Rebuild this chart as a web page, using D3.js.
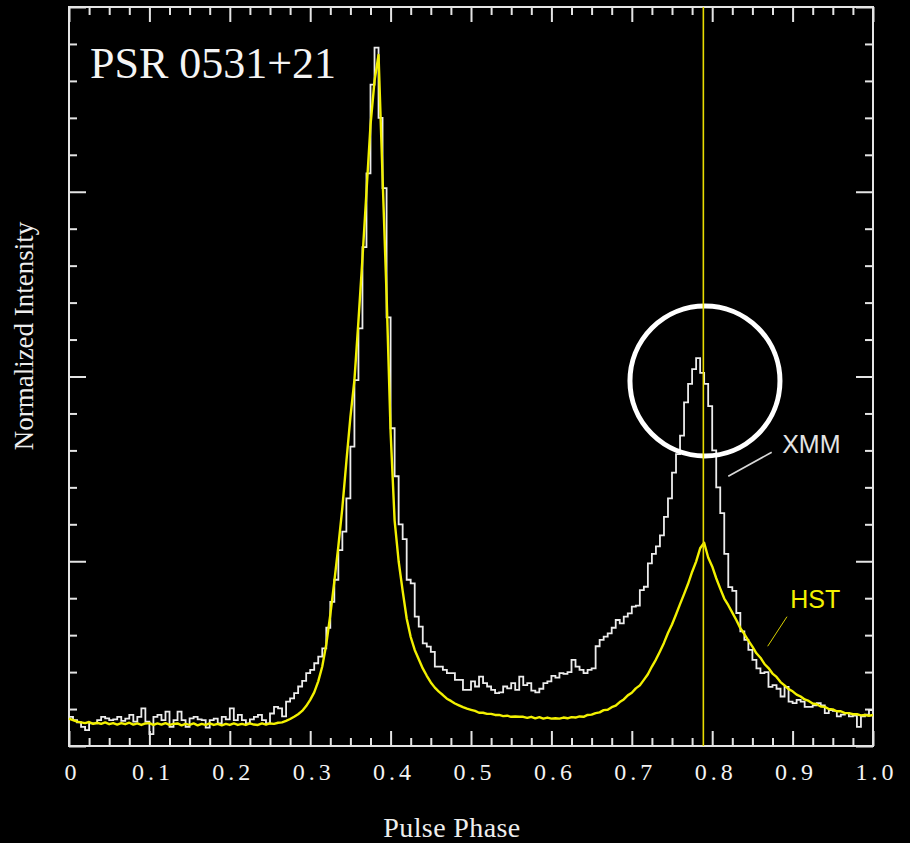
<!DOCTYPE html>
<html>
<head>
<meta charset="utf-8">
<script src="https://cdn.jsdelivr.net/npm/d3@7"></script>
<style>
  html, body { margin: 0; padding: 0; background: #000; }
  svg { display: block; }
</style>
</head>
<body>
<svg id="chart" width="910" height="843"></svg>
<script>
// Crab pulsar light curve: XMM X-ray histogram vs HST optical profile.

// XMM counts, one value per phase bin of width 0.005 (200 bins, phase 0..1)
const xmmBinWidth = 0.005;
const xmmCounts = [
  0.79, 0.70, 0.64, 0.52, 0.43, 0.61, 0.61, 0.70, 0.79, 0.75,
  0.70, 0.72, 0.79, 0.68, 0.74, 0.84, 0.66, 0.79, 1.02, 0.66,
  0.32, 0.79, 0.84, 0.70, 0.93, 0.52, 0.70, 0.93, 0.70, 0.52,
  0.75, 0.79, 0.72, 0.70, 0.50, 0.70, 0.74, 0.61, 0.79, 0.72,
  1.02, 0.70, 0.84, 0.70, 0.61, 0.72, 0.79, 0.84, 0.70, 0.61,
  0.88, 1.06, 1.02, 0.80, 1.20, 1.29, 1.43, 1.61, 1.76, 1.97,
  2.06, 2.24, 2.42, 2.64, 3.20, 3.90, 4.50, 5.30, 5.80, 6.70,
  8.10, 9.90, 11.3, 13.5, 15.5, 17.9, 18.9, 17.0, 15.1, 11.6,
  8.60, 7.30, 6.00, 5.60, 4.50, 4.40, 3.50, 3.23, 2.78, 2.69,
  2.55, 2.15, 2.15, 2.06, 1.97, 1.97, 1.79, 1.79, 1.52, 1.52,
  1.75, 1.61, 1.88, 1.70, 1.61, 1.52, 1.43, 1.45, 1.61, 1.56,
  1.70, 1.52, 1.88, 1.65, 1.70, 1.50, 1.45, 1.55, 1.70, 1.75,
  1.90, 1.85, 1.97, 1.95, 2.00, 2.33, 2.15, 2.06, 1.97, 2.06,
  2.10, 2.70, 2.87, 2.96, 3.05, 3.20, 3.41, 3.32, 3.50, 3.59,
  3.77, 3.80, 4.22, 4.31, 4.94, 5.20, 5.40, 5.70, 6.20, 6.70,
  7.40, 7.90, 8.40, 9.30, 9.80, 10.2, 10.5, 10.1, 9.80, 9.20,
  8.00, 7.00, 6.30, 5.20, 4.30, 4.20, 3.60, 3.10, 2.87, 2.60,
  2.33, 2.10, 1.97, 2.00, 1.60, 1.65, 1.55, 1.34, 1.60, 1.20,
  1.16, 1.25, 1.20, 1.06, 1.06, 1.10, 1.16, 1.10, 0.89, 0.97,
  0.95, 0.80, 0.85, 0.89, 0.80, 0.82, 0.52, 0.80, 0.85, 0.97
];

// HST optical flux sampled every 0.005 in phase (201 samples, phase 0..1)
const hstStep = 0.005;
const hstFlux = [
  0.74, 0.70, 0.66, 0.64, 0.62, 0.65, 0.60, 0.63, 0.60, 0.64,
  0.59, 0.62, 0.58, 0.62, 0.59, 0.63, 0.58, 0.61, 0.57, 0.61,
  0.62, 0.57, 0.61, 0.58, 0.62, 0.57, 0.60, 0.61, 0.56, 0.60,
  0.57, 0.61, 0.56, 0.60, 0.57, 0.61, 0.57, 0.60, 0.56, 0.60,
  0.57, 0.61, 0.57, 0.60, 0.57, 0.61, 0.58, 0.57, 0.61, 0.58,
  0.61, 0.60, 0.63, 0.64, 0.68, 0.73, 0.79, 0.86, 0.95, 1.08,
  1.25, 1.45, 1.75, 2.15, 2.75, 3.55, 4.45, 5.40, 6.45, 7.70,
  8.90, 9.90, 11.5, 13.2, 15.0, 16.8, 18.0, 18.7, 15.4, 12.2,
  8.50, 6.10, 5.00, 4.20, 3.45, 2.95, 2.60, 2.35, 2.10, 1.90,
  1.72, 1.58, 1.47, 1.38, 1.28, 1.22, 1.15, 1.10, 1.05, 1.01,
  0.98, 0.95, 0.90, 0.90, 0.87, 0.87, 0.84, 0.84, 0.81, 0.82,
  0.79, 0.80, 0.79, 0.79, 0.76, 0.79, 0.75, 0.78, 0.74, 0.77,
  0.74, 0.75, 0.74, 0.77, 0.75, 0.78, 0.77, 0.80, 0.79, 0.84,
  0.85, 0.89, 0.91, 0.97, 0.98, 1.05, 1.09, 1.19, 1.26, 1.37,
  1.44, 1.56, 1.64, 1.79, 1.94, 2.15, 2.34, 2.56, 2.79, 3.06,
  3.29, 3.56, 3.84, 4.11, 4.39, 4.71, 4.99, 5.35, 5.50, 5.10,
  4.86, 4.54, 4.26, 3.99, 3.81, 3.61, 3.41, 3.19, 3.03, 2.85,
  2.69, 2.51, 2.39, 2.22, 2.11, 1.96, 1.87, 1.73, 1.64, 1.54,
  1.48, 1.39, 1.34, 1.26, 1.22, 1.15, 1.13, 1.07, 1.06, 1.00,
  0.99, 0.94, 0.94, 0.89, 0.89, 0.86, 0.86, 0.83, 0.84, 0.82,
  0.84
];

// Axis ticks
const xMajorTicks = [0, 0.1, 0.2, 0.3, 0.4, 0.5, 0.6, 0.7, 0.8, 0.9, 1.0];
const xTickLabels = ["0", "0.1", "0.2", "0.3", "0.4", "0.5", "0.6", "0.7", "0.8", "0.9", "1.0"];
const yMajorTicks = [0, 5, 10, 15, 20];

// Reference phase of the optical second peak
const markerPhase = 0.789;

const W = 910, H = 843;
const plot = { left: 69, right: 873, top: 7, bottom: 746 };

const x = d3.scaleLinear().domain([0, 1]).range([plot.left, plot.right]);
const y = d3.scaleLinear().domain([0, 20]).range([plot.bottom, plot.top]);

const svg = d3.select("#chart");
svg.append("rect").attr("width", W).attr("height", H).attr("fill", "#000");

const axisColor = "#e4e4e4";
const serif = "'Liberation Serif', 'Times New Roman', serif";
const sans = "'Liberation Sans', Arial, sans-serif";

const xMinor = d3.range(0, 1.0001, 0.025).filter(v => Math.abs(v * 10 - Math.round(v * 10)) > 1e-6);
const yMinor = d3.range(0, 20.001, 1).filter(v => v % 5 !== 0);

function styleAxis(g) {
  g.select(".domain").remove();
  g.selectAll(".tick line").attr("stroke", axisColor).attr("stroke-width", 2);
}

// Bottom and top axes (ticks point inward)
const labelSpacing = 4;
const bottomMajor = svg.append("g").attr("transform", `translate(0,${plot.bottom})`)
  .call(d3.axisBottom(x).tickValues(xMajorTicks).tickSize(-15)
    .tickFormat((d, i) => xTickLabels[i]));
bottomMajor.call(styleAxis);
bottomMajor.selectAll(".tick text")
  .attr("y", 34).attr("dy", 0)
  .attr("dx", labelSpacing / 2 + 1)
  .attr("fill", "#f4f4f4")
  .attr("font-family", serif)
  .attr("font-size", 24)
  .attr("letter-spacing", labelSpacing + "px")
  .attr("text-anchor", "middle");

svg.append("g").attr("transform", `translate(0,${plot.bottom})`)
  .call(d3.axisBottom(x).tickValues(xMinor).tickSize(-8).tickFormat(""))
  .call(styleAxis);

svg.append("g").attr("transform", `translate(0,${plot.top})`)
  .call(d3.axisTop(x).tickValues(xMajorTicks).tickSize(-15).tickFormat(""))
  .call(styleAxis);
svg.append("g").attr("transform", `translate(0,${plot.top})`)
  .call(d3.axisTop(x).tickValues(xMinor).tickSize(-8).tickFormat(""))
  .call(styleAxis);

// Left and right axes (no labels)
svg.append("g").attr("transform", `translate(${plot.left},0)`)
  .call(d3.axisLeft(y).tickValues(yMajorTicks).tickSize(-17).tickFormat(""))
  .call(styleAxis);
svg.append("g").attr("transform", `translate(${plot.left},0)`)
  .call(d3.axisLeft(y).tickValues(yMinor).tickSize(-8).tickFormat(""))
  .call(styleAxis);
svg.append("g").attr("transform", `translate(${plot.right},0)`)
  .call(d3.axisRight(y).tickValues(yMajorTicks).tickSize(-17).tickFormat(""))
  .call(styleAxis);
svg.append("g").attr("transform", `translate(${plot.right},0)`)
  .call(d3.axisRight(y).tickValues(yMinor).tickSize(-8).tickFormat(""))
  .call(styleAxis);

// Frame
svg.append("rect")
  .attr("x", plot.left).attr("y", plot.top)
  .attr("width", plot.right - plot.left).attr("height", plot.bottom - plot.top)
  .attr("fill", "none").attr("stroke", axisColor).attr("stroke-width", 2);

// XMM histogram (step line)
const xmmPts = xmmCounts.map((v, i) => [i * xmmBinWidth, v]);
xmmPts.push([1, xmmCounts[xmmCounts.length - 1]]);
svg.append("path")
  .datum(xmmPts)
  .attr("fill", "none")
  .attr("stroke", "#ececec")
  .attr("stroke-width", 1.8)
  .attr("stroke-linejoin", "miter")
  .attr("d", d3.line().x(d => x(d[0])).y(d => y(d[1])).curve(d3.curveStepAfter));

// HST optical profile
svg.append("path")
  .datum(hstFlux.map((v, i) => [i * hstStep, v]))
  .attr("fill", "none")
  .attr("stroke", "#f2f000")
  .attr("stroke-width", 2.4)
  .attr("stroke-linejoin", "round")
  .attr("d", d3.line().x(d => x(d[0])).y(d => y(d[1])));

// Highlight circle around the X-ray second peak
svg.append("circle")
  .attr("cx", x(0.791)).attr("cy", y(9.88)).attr("r", 75)
  .attr("fill", "none").attr("stroke", "#ffffff").attr("stroke-width", 5);

// Vertical marker at the optical second peak phase
svg.append("line")
  .attr("x1", x(markerPhase)).attr("x2", x(markerPhase))
  .attr("y1", plot.top).attr("y2", plot.bottom)
  .attr("stroke", "#e8dc00").attr("stroke-width", 1.6);

// Series labels with leader lines
svg.append("line")
  .attr("x1", x(0.820)).attr("y1", y(7.3))
  .attr("x2", x(0.874)).attr("y2", y(7.95))
  .attr("stroke", "#d8d8d8").attr("stroke-width", 1.6);
svg.append("text")
  .attr("x", x(0.887)).attr("y", y(7.92))
  .attr("fill", "#e4e4e4").attr("font-family", sans).attr("font-size", 25)
  .text("XMM");

svg.append("line")
  .attr("x1", x(0.869)).attr("y1", y(2.7))
  .attr("x2", x(0.893)).attr("y2", y(3.5))
  .attr("stroke", "#d8d000").attr("stroke-width", 1);
svg.append("text")
  .attr("x", x(0.897)).attr("y", y(3.74))
  .attr("fill", "#f2f000").attr("font-family", sans).attr("font-size", 25)
  .text("HST");

// Title
svg.append("text")
  .attr("x", 90).attr("y", 78)
  .attr("fill", "#f4f4f4").attr("font-family", serif).attr("font-size", 44)
  .text("PSR 0531+21");

// Axis titles
svg.append("text")
  .attr("x", 452).attr("y", 837)
  .attr("text-anchor", "middle")
  .attr("fill", "#eeeeee").attr("font-family", serif).attr("font-size", 28)
  .attr("letter-spacing", "0.4px")
  .text("Pulse Phase");

svg.append("text")
  .attr("transform", "translate(33,336) rotate(-90)")
  .attr("text-anchor", "middle")
  .attr("fill", "#eeeeee").attr("font-family", serif).attr("font-size", 27)
  .text("Normalized Intensity");
</script>
</body>
</html>
